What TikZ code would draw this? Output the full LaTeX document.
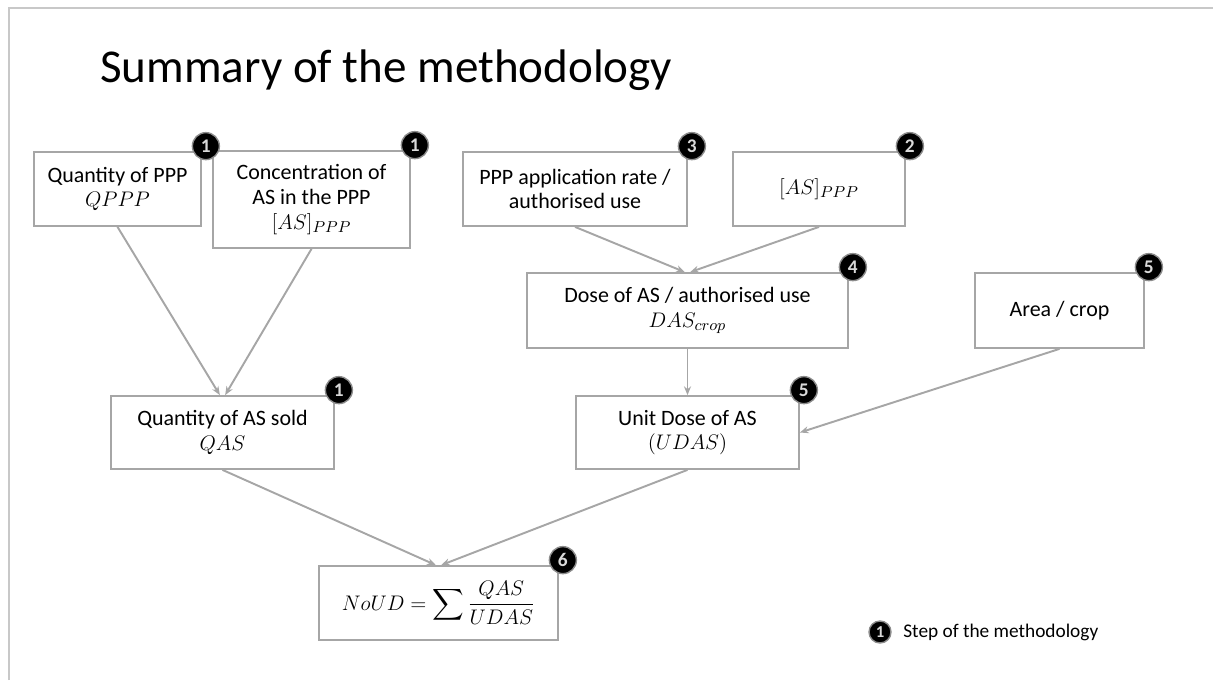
\documentclass[tikz,border=0pt]{standalone}
\usepackage{amsmath,amssymb}
\usepackage{fontspec}
\setmainfont{Carlito}
\usepackage{tikz}
\usetikzlibrary{arrows.meta}
\definecolor{slidegray}{RGB}{200,200,200}
\definecolor{boxgray}{RGB}{166,166,166}
\definecolor{badgering}{RGB}{140,140,140}
\newlength\pxu
\setlength\pxu{0.02cm}
\tikzset{
  every node/.append style={align=center},
  stepbox/.style={draw=boxgray, line width=1pt, inner sep=2pt,
    font=\fontsize{12.5}{14}\selectfont},
  badge/.style={circle, fill=black, draw=badgering, line width=0.8pt,
    minimum size=27\pxu, inner sep=0pt, text=white!85!black,
    font=\fontsize{11}{11}\selectfont\bfseries},
  flow/.style={draw=boxgray, line width=1.1pt,
    -{Stealth[length=5pt,width=4pt]}}
}

\begin{document}
\begin{tikzpicture}[x=\pxu, y=-\pxu]

  \useasboundingbox (0,0) rectangle (1213,680);

  % === SLIDE FRAME AND TITLE ===
  \draw[slidegray, line width=1pt] (9,680) -- (9,8) -- (1213,8);
  \node[anchor=base west, inner sep=0pt,
    font=\fontsize{26.8}{30}\selectfont] (title) at (100,82)
    {Summary of the methodology};

  % === INPUT BOXES ===
  \node[stepbox, minimum width=167\pxu, minimum height=74\pxu] (qppp)
    at (117.5,189) {Quantity of PPP\\ $QPPP$};
  \node[stepbox, minimum width=197\pxu, minimum height=97\pxu] (conc)
    at (311.5,199.5) {Concentration of\\ AS in the PPP\\ $[AS]_{PPP}$};
  \node[stepbox, minimum width=224\pxu, minimum height=74\pxu] (rate)
    at (575,189) {PPP application rate /\\ authorised use};
  \node[stepbox, minimum width=172\pxu, minimum height=74\pxu] (asppp)
    at (819,189) {$[AS]_{PPP}$};

  % === INTERMEDIATE BOXES ===
  \node[stepbox, minimum width=321\pxu, minimum height=75\pxu] (dose)
    at (687.5,310.5) {Dose of AS / authorised use\\ $DAS_{crop}$};
  \node[stepbox, minimum width=169\pxu, minimum height=75\pxu] (area)
    at (1059.5,310.5) {Area / crop};
  \node[stepbox, minimum width=223\pxu, minimum height=73\pxu] (qas)
    at (222.5,432.5) {Quantity of AS sold\\ $QAS$};
  \node[stepbox, minimum width=223\pxu, minimum height=73\pxu] (udas)
    at (687.5,432.5) {Unit Dose of AS\\ $(UDAS)$};

  % === RESULT ===
  \node[stepbox, minimum width=239\pxu, minimum height=74\pxu] (noud)
    at (438.5,603) {$\displaystyle NoUD = \sum \frac{QAS}{UDAS}$};

  % Step numbers
  \foreach \n/\k in {qppp/1, conc/1, rate/3, asppp/2, dose/4,
    area/5, qas/1, udas/5, noud/6} {
    \node[badge] (b-\n) at ([shift={(4,-5)}]\n.north east) {\k};
  }

  % Flows
  \draw[flow] (qppp.south) -- ([xshift=-1.5pt]qas.north);
  \draw[flow] (conc.south) -- ([xshift=1.5pt]qas.north);
  \draw[flow] (rate.south) -- ([xshift=-1.5pt]dose.north);
  \draw[flow] (asppp.south) -- ([xshift=1.5pt]dose.north);
  \draw[flow] (dose.south) -- (udas.north);
  \draw[flow] (area.south) -- (udas.east);
  \draw[flow] (qas.south) -- ([xshift=-1.5pt]noud.north);
  \draw[flow] (udas.south) -- ([xshift=1.5pt]noud.north);

  % === LEGEND ===
  \node[badge, minimum size=22\pxu, font=\fontsize{9.5}{10}\selectfont\bfseries]
    (leg) at (880,632) {1};
  \node[anchor=west, inner sep=0pt,
    font=\fontsize{11}{13}\selectfont] (legtext) at (903,632)
    {Step of the methodology};

\end{tikzpicture}
\end{document}
